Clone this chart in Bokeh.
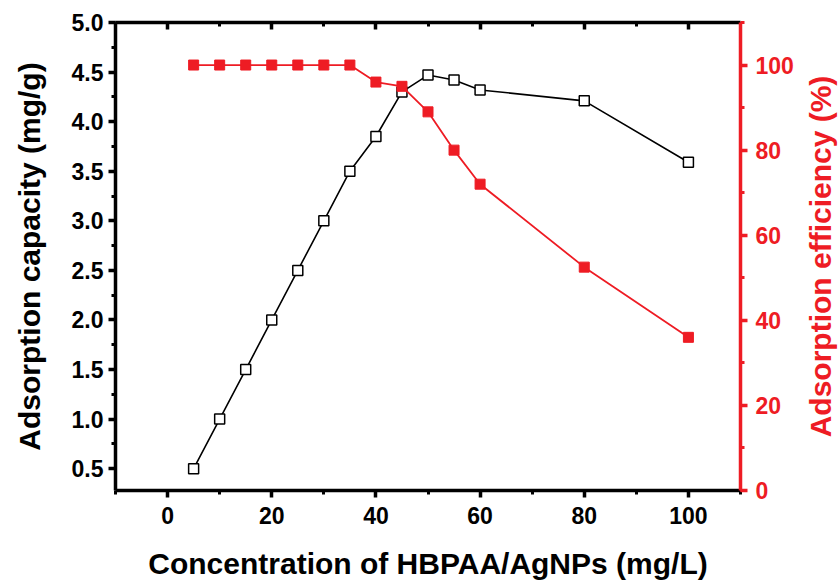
from bokeh.plotting import figure
from bokeh.layouts import row
from bokeh.models import (Range1d, LinearAxis, SingleIntervalTicker, FixedTicker,
                          NumeralTickFormatter, CustomJSTickFormatter)
from bokeh.embed import file_html
from bokeh.resources import INLINE

# HBPAA/AgNPs concentration (mg/L)
concentration = [5, 10, 15, 20, 25, 30, 35, 40, 45, 50, 55, 60, 80, 100]
# adsorption capacity (mg/g)
capacity = [0.50, 1.00, 1.50, 2.00, 2.50, 3.00, 3.50, 3.85, 4.30, 4.47, 4.42, 4.32, 4.21, 3.59]
# adsorption efficiency (%)
efficiency = [100, 100, 100, 100, 100, 100, 100, 96, 95, 89, 80, 72, 52.5, 36]

RED = "#ee1c24"
FONT = "Liberation Sans"
TICK_SIZE = "23px"
LABEL_SIZE = "30px"

LEFT_W = 47    # strip holding the left title
RIGHT_W = 42   # strip holding the right title
H = 588
TOP, BOTTOM = 22, 98

p = figure(width=838 - LEFT_W - RIGHT_W, height=H, output_backend="svg",
           toolbar_location=None,
           x_range=Range1d(-10, 110), y_range=Range1d(0.28, 5.0),
           min_border_left=115 - LEFT_W, min_border_right=98 - RIGHT_W,
           min_border_top=TOP, min_border_bottom=BOTTOM)
p.extra_y_ranges = {"eff": Range1d(0, 110)}
p.grid.visible = False
p.outline_line_color = None
p.background_fill_color = "white"
p.border_fill_color = "white"


def style_axis(ax, color):
    ax.axis_line_color = color
    ax.axis_line_width = 3.5
    ax.major_tick_line_color = color
    ax.minor_tick_line_color = color
    ax.major_tick_line_width = 3.5
    ax.minor_tick_line_width = 3
    ax.major_tick_out = 7
    ax.major_tick_in = 0
    ax.minor_tick_out = 4
    ax.minor_tick_in = 0
    ax.major_label_text_font = FONT
    ax.major_label_text_font_style = "bold"
    ax.major_label_text_font_size = TICK_SIZE
    ax.major_label_text_color = color
    ax.axis_label_text_font = FONT
    ax.axis_label_text_font_style = "bold"
    ax.axis_label_text_font_size = LABEL_SIZE
    ax.axis_label_text_color = color


def title_strip(text, color, width):
    """Narrow figure whose only visible content is a vertical title
    reading bottom to top, centred on the main frame."""
    s = figure(width=width, height=H, output_backend="svg",
               toolbar_location=None,
               x_range=Range1d(0, 1), y_range=Range1d(0, 1),
               min_border_left=width - 2, min_border_right=0,
               min_border_top=TOP, min_border_bottom=BOTTOM)
    s.grid.visible = False
    s.xaxis.visible = False
    s.outline_line_color = None
    s.background_fill_color = "white"
    s.border_fill_color = "white"
    ax = s.yaxis[0]
    ax.ticker = FixedTicker(ticks=[], minor_ticks=[])
    style_axis(ax, color)
    ax.axis_line_color = None
    ax.major_tick_out = 0
    ax.minor_tick_out = 0
    ax.major_label_standoff = 0
    ax.axis_label = text
    ax.axis_label_standoff = 0
    return s


# bottom x axis
xa = p.xaxis[0]
xa.ticker = SingleIntervalTicker(interval=20, num_minor_ticks=2)
style_axis(xa, "black")
xa.axis_label = "Concentration of HBPAA/AgNPs (mg/L)"
xa.major_label_standoff = 9
xa.axis_label_standoff = 20

# left y axis (ticks and numbers)
ya = p.yaxis[0]
ya.ticker = SingleIntervalTicker(interval=0.5, num_minor_ticks=2)
ya.formatter = NumeralTickFormatter(format="0.0")
style_axis(ya, "black")
ya.major_label_standoff = 5

# top mirror axis with inward ticks and no labels
top = LinearAxis(ticker=SingleIntervalTicker(interval=20, num_minor_ticks=2),
                 formatter=CustomJSTickFormatter(code="return ''"))
style_axis(top, "black")
top.major_tick_out = 0
top.major_tick_in = 7
top.minor_tick_out = 0
top.minor_tick_in = 4
p.add_layout(top, "above")

# right y axis for efficiency
ra = LinearAxis(y_range_name="eff",
                ticker=SingleIntervalTicker(interval=20, num_minor_ticks=2))
style_axis(ra, RED)
ra.major_label_standoff = 8
p.add_layout(ra, "right")

# capacity series: open black squares
p.line(concentration, capacity, line_color="black", line_width=1.6)
p.scatter(concentration, capacity, marker="square", size=10,
          fill_color="white", line_color="black", line_width=1.5)

# efficiency series: filled red squares
p.line(concentration, efficiency, y_range_name="eff",
       line_color=RED, line_width=1.8)
p.scatter(concentration, efficiency, y_range_name="eff", marker="square",
          size=10, fill_color=RED, line_color=RED)

# axis titles in side strips
left_title = title_strip("Adsorption capacity (mg/g)", "black", LEFT_W)
right_title = title_strip("Adsorption efficiency (%)", RED, RIGHT_W)

layout = row(left_title, p, right_title, spacing=0)
open("out.html", "w").write(file_html(layout, INLINE))
